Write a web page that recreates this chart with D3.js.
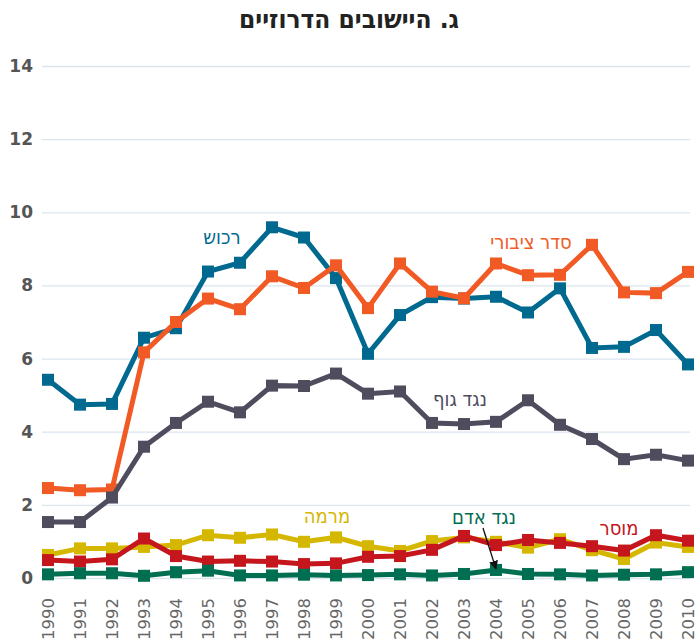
<!DOCTYPE html>
<html><head><meta charset="utf-8">
<script src="https://cdn.jsdelivr.net/npm/d3@7/dist/d3.min.js"></script>
<style>body{margin:0;background:#fff}svg{display:block}</style>
</head><body>
<svg id="c" width="699" height="640"></svg>
<script>
const years = [1990,1991,1992,1993,1994,1995,1996,1997,1998,1999,2000,2001,2002,2003,2004,2005,2006,2007,2008,2009,2010];
const yTicks = [0,2,4,6,8,10,12,14];
const title = "ג. היישובים הדרוזיים";

const rechush = [5.42,4.74,4.76,6.57,6.83,8.38,8.62,9.59,9.31,8.2,6.13,7.19,7.68,7.64,7.69,7.26,7.92,6.29,6.32,6.78,5.84];
const seder   = [2.46,2.4,2.42,6.17,7.0,7.64,7.35,8.25,7.93,8.55,7.38,8.6,7.83,7.65,8.6,8.28,8.29,9.11,7.81,7.79,8.37];
const neged_guf = [1.53,1.53,2.2,3.59,4.24,4.82,4.53,5.26,5.25,5.59,5.04,5.1,4.24,4.21,4.27,4.86,4.19,3.8,3.25,3.37,3.21];
const mirma   = [0.63,0.81,0.81,0.85,0.9,1.17,1.1,1.19,0.99,1.11,0.87,0.74,1.01,1.11,0.99,0.83,1.06,0.76,0.52,0.97,0.85];
const musar   = [0.49,0.45,0.51,1.08,0.6,0.45,0.47,0.45,0.38,0.4,0.58,0.6,0.77,1.15,0.9,1.04,0.96,0.87,0.75,1.17,1.02];
const neged_adam = [0.1,0.13,0.13,0.06,0.16,0.2,0.07,0.07,0.09,0.07,0.08,0.1,0.07,0.11,0.22,0.11,0.1,0.07,0.09,0.1,0.16];

const series = [
  {name:"רכוש", values:rechush, color:"#00698f", lx:222, ly:244},
  {name:"סדר ציבורי", values:seder, color:"#f15a24", lx:531, ly:249},
  {name:"נגד גוף", values:neged_guf, color:"#4f4c5e", lx:460, ly:406},
  {name:"מרמה", values:mirma, color:"#d6b700", lx:327, ly:523},
  {name:"מוסר", values:musar, color:"#c4161c", lx:619, ly:535},
  {name:"נגד אדם", values:neged_adam, color:"#006e50", lx:484, ly:524}
];

const svg = d3.select("#c");
const x = d3.scalePoint().domain(years).range([48, 688]);
const y = d3.scaleLinear().domain([0,14]).range([578, 66]);

svg.append("text").attr("x",349).attr("y",28).attr("text-anchor","middle")
  .attr("font-family","'Liberation Sans Narrow','DejaVu Sans Condensed',sans-serif")
  .attr("font-weight","bold").attr("font-size",26).attr("fill","#222").text(title);

// grid
const yAxis = d3.axisLeft(y).tickValues(yTicks).tickSize(-648).tickPadding(10).tickFormat(d3.format("d"));
const gy = svg.append("g").attr("transform","translate(42,0)").call(yAxis);
gy.select(".domain").remove();
gy.selectAll(".tick line").attr("stroke","#dbe5ee").attr("stroke-width",1.3);
gy.selectAll(".tick text").attr("font-family","'DejaVu Sans',sans-serif").attr("font-weight","bold")
  .attr("font-size",17).attr("fill","#555").attr("x",-9);

const xAxis = d3.axisBottom(x).tickSize(0).tickPadding(0);
const gx = svg.append("g").attr("transform","translate(0,596)").call(xAxis);
gx.select(".domain").remove();
gx.selectAll(".tick text").attr("font-family","'DejaVu Sans',sans-serif").attr("font-size",16.5)
  .attr("fill","#666").attr("text-anchor","end").attr("transform","rotate(-90)")
  .attr("dy","0.35em").attr("x",-2).attr("y",0);

const line = d3.line().x((d,i)=>x(years[i])).y(d=>y(d));
const ms = 12;
series.forEach(s=>{
  svg.append("path").attr("d",line(s.values)).attr("fill","none").attr("stroke",s.color)
    .attr("stroke-width",5).attr("stroke-linejoin","miter");
  svg.append("g").selectAll("rect").data(s.values).join("rect")
    .attr("x",(d,i)=>x(years[i])-ms/2).attr("y",d=>y(d)-ms/2)
    .attr("width",ms).attr("height",ms).attr("fill",s.color);
  svg.append("text").attr("x",s.lx).attr("y",s.ly).attr("text-anchor","middle")
    .attr("font-family","'Liberation Sans Narrow','DejaVu Sans Condensed',sans-serif")
    .attr("font-size",20).attr("fill",s.color).text(s.name);
});

// arrow
const defs = svg.append("defs");
defs.append("marker").attr("id","ah").attr("viewBox","0 0 10 10").attr("refX",9).attr("refY",5)
  .attr("markerWidth",7).attr("markerHeight",7).attr("orient","auto")
  .append("path").attr("d","M0,0 L10,5 L0,10 Z").attr("fill","#111");
svg.append("line").attr("x1",483).attr("y1",528).attr("x2",496).attr("y2",569)
  .attr("stroke","#111").attr("stroke-width",1.3).attr("marker-end","url(#ah)");
</script>
</body></html>
